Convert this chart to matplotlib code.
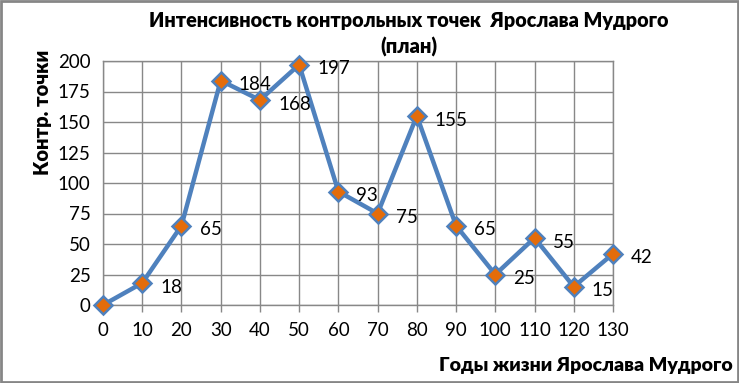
import matplotlib
matplotlib.use('Agg')
import matplotlib.pyplot as plt
from matplotlib.patches import Rectangle

# data
years = [0, 10, 20, 30, 40, 50, 60, 70, 80, 90, 100, 110, 120, 130]
points = [0, 18, 65, 184, 168, 197, 93, 75, 155, 65, 25, 55, 15, 42]
y_ticks = [0, 25, 50, 75, 100, 125, 150, 175, 200]

plt.rcParams['font.family'] = ['Lato', 'DejaVu Sans']

W, H = 739, 383
fig = plt.figure(figsize=(W / 100, H / 100), dpi=100)
ax = fig.add_axes([103 / W, 1 - 305 / H, (613 - 103) / W, (305 - 61) / H])

ax.plot(years, points, color='#4F81BD', lw=3.2, marker='D', markersize=9.5,
        markerfacecolor='#E46C0A', markeredgecolor='#4F81BD', markeredgewidth=1.8,
        zorder=3, clip_on=False)

for x, y in zip(years, points):
    if y == 0:
        continue
    ax.annotate(str(y), (x, y), xytext=(13, -3), textcoords='offset points',
                ha='left', va='center', fontsize=13.5, color='black')

ax.set_xlim(0, 130)
ax.set_ylim(0, 200)
ax.set_xticks(years)
ax.set_yticks(y_ticks)
ax.tick_params(axis='both', labelsize=13.5, colors='#888888', labelcolor='black')
ax.tick_params(axis='x', length=5, width=1, pad=7, direction='out')
ax.tick_params(axis='y', length=0, pad=9)
ax.grid(True, color='#888888', lw=1)
ax.set_axisbelow(True)
for side in ['top', 'right', 'bottom', 'left']:
    ax.spines[side].set_color('#888888')
    ax.spines[side].set_linewidth(1)

fig.text(409 / W, 1 - 20 / H, 'Интенсивность контрольных точек  Ярослава Мудрого',
         ha='center', va='center', fontsize=14.2, fontweight='heavy')
fig.text(409 / W, 1 - 47 / H, '(план)', ha='center', va='center',
         fontsize=14.5, fontweight='heavy')
fig.text(43 / W, 1 - 112 / H, 'Контр. точки', rotation=90, ha='center', va='center',
         fontsize=14.5, fontweight='heavy')
fig.text(733 / W, 1 - 365 / H, 'Годы жизни Ярослава Мудрого', ha='right', va='center',
         fontsize=14, fontweight='heavy')

fig.patches.append(Rectangle((0.002, 0.003), 0.996, 0.994, transform=fig.transFigure,
                             fill=False, edgecolor='#868686', lw=2))

fig.savefig('out.png', dpi=100)
